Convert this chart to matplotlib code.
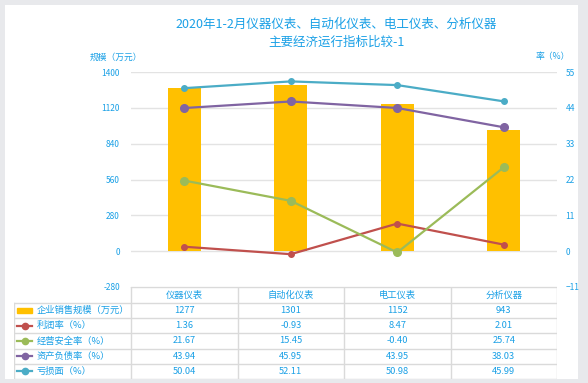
import numpy as np
import matplotlib
matplotlib.use('Agg')
import matplotlib.pyplot as plt
from matplotlib.patches import Rectangle

plt.rcParams['font.family'] = ['Noto Sans CJK SC', 'DejaVu Sans']

# data
categories = ['仪器仪表', '自动化仪表', '电工仪表', '分析仪器']
sales = [1277, 1301, 1152, 943]
profit_rate = [1.36, -0.93, 8.47, 2.01]
safety_rate = [21.67, 15.45, -0.40, 25.74]
debt_rate = [43.94, 45.95, 43.95, 38.03]
loss_rate = [50.04, 52.11, 50.98, 45.99]
left_ticks = [-280, 0, 280, 560, 840, 1120, 1400]
right_ticks = [-11, 0, 11, 22, 33, 44, 55]

series_names = ['企业销售规模（万元）', '利润率（%）', '经营安全率（%）', '资产负债率（%）', '亏损面（%）']
line_series = [profit_rate, safety_rate, debt_rate, loss_rate]
line_colors = ['#C0504D', '#9BBB59', '#8064A2', '#4BACC6']
marker_sizes = [4.0, 5.5, 5.5, 4.0]
bar_color = '#FFC000'
text_color = '#1AA0E6'
grid_color = '#E3E3E3'

W, H = 588, 383
fig = plt.figure(figsize=(W / 100, H / 100), dpi=100)
fig.patch.set_facecolor('#E8E9EC')
fig.add_artist(Rectangle((5 / W, 1 - 379 / H), 573 / W, 374 / H,
                         transform=fig.transFigure, facecolor='white',
                         edgecolor='none', zorder=0))

# main plot area (pixels: x 131-557, y 72-287)
x0, x1, y0, y1 = 131, 557, 72, 287
ax = fig.add_axes([x0 / W, 1 - y1 / H, (x1 - x0) / W, (y1 - y0) / H])
ax.set_facecolor('none')
x = np.arange(len(categories))
ax.bar(x, sales, width=0.31, color=bar_color, zorder=2)
ax.set_xlim(-0.5, len(categories) - 0.5)
ax.set_ylim(left_ticks[0], left_ticks[-1])
ax.set_yticks(left_ticks)
ax.set_yticklabels([str(t) for t in left_ticks])
ax.set_xticks([])
ax.tick_params(axis='y', length=0, pad=8, labelsize=6, labelcolor=text_color)
ax.grid(axis='y', color=grid_color, linewidth=1, zorder=0)
ax.set_axisbelow(True)
for s in ax.spines.values():
    s.set_visible(False)

ax2 = ax.twinx()
for vals, c, ms in zip(line_series, line_colors, marker_sizes):
    ax2.plot(x, vals, color=c, linewidth=1.6, marker='o', markersize=ms, zorder=3)
ax2.set_ylim(right_ticks[0], right_ticks[-1])
ax2.set_yticks(right_ticks)
ax2.tick_params(axis='y', length=0, pad=6, labelsize=6, labelcolor=text_color)
for s in ax2.spines.values():
    s.set_visible(False)

# titles and axis captions
fig.text(336 / W, 1 - 24 / H, '2020年1-2月仪器仪表、自动化仪表、电工仪表、分析仪器',
         ha='center', va='center', fontsize=9, color=text_color)
fig.text(336 / W, 1 - 42 / H, '主要经济运行指标比较-1',
         ha='center', va='center', fontsize=9, color=text_color)
fig.text(116 / W, 1 - 57 / H, '规模（万元）', ha='center', va='center',
         fontsize=6.3, color=text_color)
fig.text(553 / W, 1 - 56 / H, '率（%）', ha='center', va='center',
         fontsize=6.3, color=text_color)

# data table below the plot
tx0, ty0, ty1 = 14, 287, 379
colw = (x1 - x0) / len(categories)
left_lim = -0.5 - (x0 - tx0) / colw
axt = fig.add_axes([tx0 / W, 1 - ty1 / H, (x1 - tx0) / W, (ty1 - ty0) / H])
axt.set_xlim(left_lim, len(categories) - 0.5)
n_rows = len(series_names)
header_h = 1.05
axt.set_ylim(n_rows, -header_h)
axt.axis('off')
border = '#DADADA'

# header cells
for i, cat in enumerate(categories):
    axt.text(i, -header_h / 2, cat, ha='center', va='center', fontsize=6.7, color=text_color)
axt.plot([-0.5, len(categories) - 0.5], [-header_h, -header_h], color=border, lw=1)
for k in range(len(categories) + 1):
    axt.plot([k - 0.5, k - 0.5], [-header_h, n_rows], color=border, lw=1)
axt.plot([left_lim, left_lim], [0, n_rows], color=border, lw=1)
for r in range(n_rows + 1):
    axt.plot([left_lim, len(categories) - 0.5], [r, r], color=border, lw=1)

all_vals = [sales] + line_series
for r, (name, vals) in enumerate(zip(series_names, all_vals)):
    yc = r + 0.5
    sx0 = left_lim + 0.028
    sx1 = left_lim + 0.17
    if r == 0:
        axt.add_patch(Rectangle((sx0, yc - 0.17), sx1 - sx0, 0.34, color=bar_color))
    else:
        c = line_colors[r - 1]
        axt.plot([sx0, sx1], [yc, yc], color=c, lw=1.6)
        axt.plot([(sx0 + sx1) / 2], [yc], marker='o', color=c, markersize=4.5)
    axt.text(sx1 + 0.04, yc, name, ha='left', va='center', fontsize=6.7, color=text_color)
    for i, v in enumerate(vals):
        label = f'{v:d}' if isinstance(v, int) else f'{v:.2f}'
        axt.text(i, yc, label, ha='center', va='center', fontsize=6.7, color=text_color)

fig.savefig('out.png', dpi=100, facecolor=fig.get_facecolor())
